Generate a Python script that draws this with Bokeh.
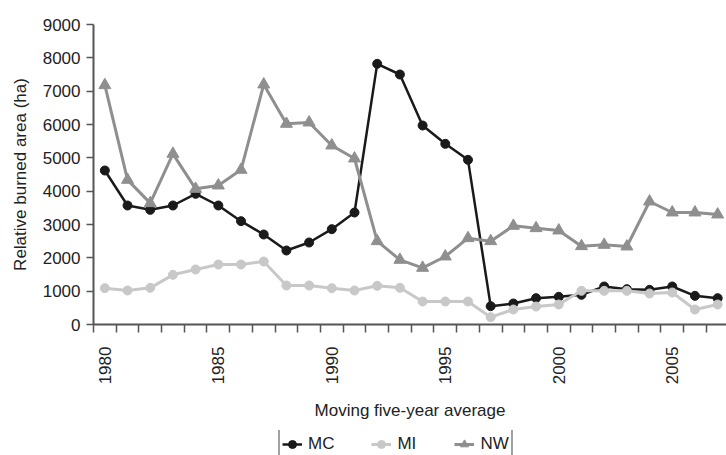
import math
from bokeh.plotting import figure
from bokeh.layouts import column
from bokeh.models import Range1d, FixedTicker, Legend, LegendItem
from bokeh.embed import file_html
from bokeh.resources import INLINE

years = list(range(1980, 2008))
mc = [4620, 3570, 3440, 3570, 3920, 3570, 3100, 2700, 2220, 2460, 2860, 3360,
      7820, 7500, 5970, 5420, 4940, 550, 630, 790, 830, 890, 1140, 1060, 1040, 1140, 860, 790]
mi = [1090, 1020, 1100, 1490, 1650, 1800, 1800, 1890, 1170, 1170, 1090, 1020,
      1160, 1100, 690, 690, 690, 220, 450, 540, 600, 1010, 1010, 1010, 930, 960, 450, 600]
nw = [7180, 4340, 3640, 5120, 4070, 4170, 4640, 7200, 6020, 6060, 5370, 4980,
      2500, 1940, 1700, 2040, 2590, 2500, 2960, 2890, 2820, 2350, 2390, 2340, 3690, 3360, 3360, 3300]
year_labels = [1980, 1985, 1990, 1995, 2000, 2005]
y_ticks = list(range(0, 10000, 1000))
series_names = ["MC", "MI", "NW"]

FONT = "Liberation Sans"
TXT = "#222222"
AX = "#555555"

p = figure(width=726, height=430, output_backend="svg", toolbar_location=None,
           x_range=Range1d(1979.5, 2007.39), y_range=Range1d(0, 9000),
           min_border_left=93, min_border_right=0, min_border_top=24,
           min_border_bottom=106)
p.outline_line_color = None
p.grid.visible = False

# x axis
p.xaxis.ticker = FixedTicker(ticks=year_labels,
                             minor_ticks=[1979.5 + i for i in range(29)])
p.xaxis.major_tick_out = 0
p.xaxis.major_tick_in = 0
p.xaxis.minor_tick_out = 8
p.xaxis.minor_tick_in = 0
p.xaxis.major_label_orientation = math.pi / 2
p.xaxis.major_label_standoff = 14
p.xaxis.axis_label = "Moving five-year average"
p.xaxis.axis_label_standoff = 14

# y axis
p.yaxis.ticker = FixedTicker(ticks=y_ticks, minor_ticks=[])
p.yaxis.major_tick_out = 7
p.yaxis.major_tick_in = 0
p.yaxis.minor_tick_out = 0
p.yaxis.minor_tick_in = 0
p.yaxis.major_label_standoff = 6
p.yaxis.axis_label = "Relative burned area (ha)"
p.yaxis.axis_label_standoff = 10

for ax in (p.xaxis[0], p.yaxis[0]):
    ax.axis_line_color = AX
    ax.axis_line_width = 2
    ax.major_tick_line_color = AX
    ax.major_tick_line_width = 1.5
    ax.minor_tick_line_color = AX
    ax.minor_tick_line_width = 1.5
    ax.major_label_text_font = FONT
    ax.major_label_text_font_size = "17px"
    ax.major_label_text_color = TXT
    ax.axis_label_text_font = FONT
    ax.axis_label_text_font_size = "17px"
    ax.axis_label_text_font_style = "normal"
    ax.axis_label_text_color = TXT

c_mc, c_mi, c_nw = "#1a1a1a", "#c8c8c8", "#8f8f8f"
styles = [
    dict(color=c_mc, lw=2.5, marker="circle", size=9),
    dict(color=c_mi, lw=3, marker="circle", size=9),
    dict(color=c_nw, lw=3, marker="triangle", size=12),
]

for vals, st in zip([mc, mi, nw], styles):
    p.line(years, vals, line_color=st["color"], line_width=st["lw"])
    p.scatter(years, vals, marker=st["marker"], size=st["size"],
              fill_color=st["color"], line_color=st["color"])

# legend strip below the chart
lf = figure(width=726, height=25, output_backend="svg", toolbar_location=None,
            x_range=Range1d(0, 726), y_range=Range1d(0, 25),
            x_axis_location=None, y_axis_location=None,
            min_border_left=0, min_border_right=0, min_border_top=0,
            min_border_bottom=0)
lf.grid.visible = False
lf.outline_line_color = None

items = []
for name, st in zip(series_names, styles):
    rl = lf.line([-100, -99], [-100, -100], line_color=st["color"], line_width=st["lw"])
    rm = lf.scatter([-100], [-100], marker=st["marker"], size=st["size"] - 2,
                    fill_color=st["color"], line_color=st["color"])
    items.append(LegendItem(label=name, renderers=[rl, rm]))

legend = Legend(items=items, orientation="horizontal", location=(185, -5),
                padding=2, spacing=37, margin=0,
                glyph_width=20, glyph_height=24, label_height=24,
                label_standoff=6,
                label_text_font=FONT, label_text_font_size="17px",
                label_text_color=TXT,
                border_line_color="#444444", border_line_width=2,
                background_fill_color="white", background_fill_alpha=1)
lf.add_layout(legend, "center")

layout = column(p, lf, spacing=0)
open("out.html", "w").write(file_html(layout, INLINE))
